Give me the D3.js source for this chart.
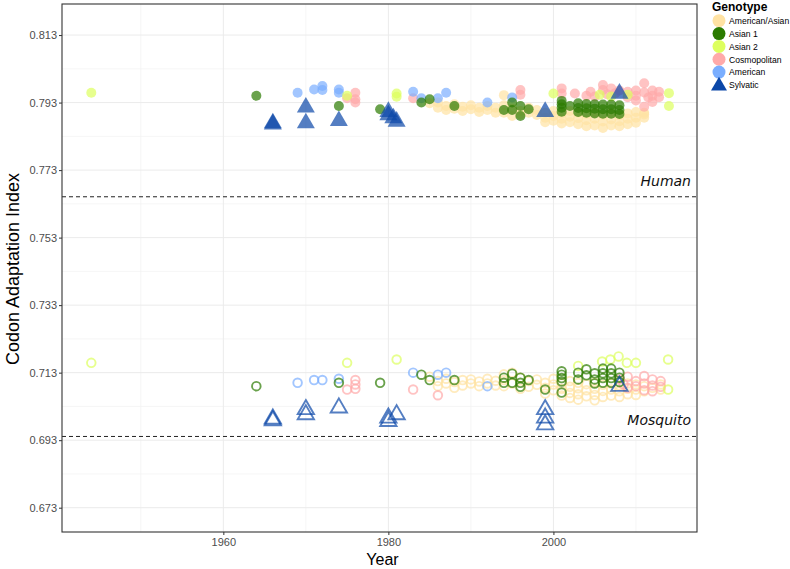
<!DOCTYPE html>
<html><head><meta charset="utf-8">
<script src="https://cdn.jsdelivr.net/npm/d3@7"></script>
<style>body{margin:0;background:#fff;} svg{display:block;font-family:"Liberation Sans",Arial,sans-serif;}</style>
</head><body><svg id="chart" width="790" height="569"></svg>
<script>
// ---- data ----
const genotypes = ["American/Asian","Asian 1","Asian 2","Cosmopolitan","American","Sylvatic"];
const genoColors = ["#FFE2A3","#2B7A00","#DDFF5E","#FFAAAA","#7AAEFF","#0B47A8"];
const yTicks = [0.673,0.693,0.713,0.733,0.753,0.773,0.793,0.813];
const xTicks = [1960,1980,2000];
const refLines = [{label:"Human",value:0.7651},{label:"Mosquito",value:0.6941}];

const humanAmAsian = [[1985,0.7928],[1986,0.7915],[1986,0.7930],[1987,0.7920],[1987,0.7908],[1988,0.7925],[1988,0.7912],[1989,0.7918],[1989,0.7905],[1990,0.7922],[1990,0.7910],[1991,0.7915],[1991,0.7902],[1992,0.7920],[1992,0.7908],[1993,0.7915],[1993,0.7900],[1994,0.7952],[1994,0.7922],[1994,0.7900],[1995,0.7890],[1995,0.7912],[1996,0.7905],[1996,0.7895],[1997,0.7915],[1997,0.7900],[1998,0.7908],[1998,0.7893],[1999,0.7900],[1999,0.7885],[1999,0.7872],[2000,0.7905],[2000,0.7890],[2000,0.7876],[2001,0.7898],[2001,0.7882],[2001,0.7868],[2002,0.7905],[2002,0.7888],[2002,0.7872],[2003,0.7900],[2003,0.7884],[2003,0.7866],[2004,0.7896],[2004,0.7878],[2004,0.7860],[2005,0.7900],[2005,0.7882],[2005,0.7862],[2006,0.7893],[2006,0.7874],[2006,0.7855],[2007,0.7898],[2007,0.7880],[2007,0.7862],[2008,0.7892],[2008,0.7875],[2008,0.7860],[2009,0.7898],[2009,0.7882],[2009,0.7866],[2010,0.7902],[2010,0.7885],[2010,0.7870],[2011,0.7900],[2011,0.7885],[2011,0.7895]];
const humanAsian1 = [[1964,0.7950],[1974,0.7920],[1979,0.7910],[1984,0.7930],[1985,0.7940],[1988,0.7920],[1994,0.7908],[1995,0.7930],[1995,0.7908],[1996,0.7920],[1996,0.7890],[1997,0.7910],[2001,0.7935],[2001,0.7925],[2001,0.7915],[2001,0.7903],[2002,0.7920],[2003,0.7928],[2003,0.7914],[2003,0.7902],[2004,0.7926],[2004,0.7913],[2004,0.7900],[2005,0.7925],[2005,0.7912],[2005,0.7898],[2006,0.7924],[2006,0.7910],[2006,0.7897],[2007,0.7924],[2007,0.7910],[2007,0.7897],[2008,0.7922],[2008,0.7908],[2008,0.7896]];
const humanAsian2 = [[1944,0.7959],[1975,0.7950],[1981,0.7957],[1981,0.7947],[2000,0.7957],[2005.6,0.7953],[2007,0.7948],[2009,0.7953],[2014,0.7958],[2014,0.7920]];
const humanCosmo = [[1975,0.7943],[1976,0.7959],[1976,0.7940],[1976,0.7930],[1983,0.7943],[1996,0.7967],[1996,0.7953],[2001,0.7972],[2001,0.7957],[2002.6,0.7957],[2004,0.7950],[2004.5,0.7962],[2005,0.7948],[2006,0.7982],[2006,0.7967],[2006.5,0.7955],[2007,0.7972],[2007.5,0.7958],[2008,0.7966],[2009,0.7962],[2009,0.7946],[2010,0.7966],[2010,0.7950],[2010,0.7936],[2011,0.7987],[2011,0.7960],[2011,0.7918],[2011.5,0.7945],[2012,0.7966],[2012,0.7950],[2012,0.7932],[2012.8,0.7962],[2012.8,0.7946]];
const humanAmerican = [[1969,0.7959],[1971,0.7969],[1972,0.7979],[1972,0.7967],[1974,0.7969],[1974,0.7959],[1983,0.7962],[1984,0.7943],[1986,0.7943],[1987,0.7959],[1992,0.7930],[1995,0.7945]];
const humanSylvatic = [[1966,0.7869],[1966,0.7866],[1970,0.7916],[1970,0.7869],[1974,0.7876],[1980,0.7903],[1980,0.7893],[1980.6,0.7884],[1981,0.7874],[1999,0.7903],[2008,0.7957]];

const mosqAmAsian = [[1985,0.7118],[1986,0.7105],[1986,0.7090],[1987,0.7112],[1987,0.7098],[1988,0.7102],[1988,0.7085],[1989,0.7108],[1989,0.7092],[1990,0.7110],[1990,0.7098],[1991,0.7104],[1991,0.7090],[1992,0.7112],[1992,0.7098],[1993,0.7106],[1993,0.7092],[1994,0.7125],[1994,0.7108],[1994,0.7090],[1995,0.7130],[1995,0.7098],[1996,0.7115],[1996,0.7082],[1997,0.7105],[1997,0.7088],[1998,0.7110],[1998,0.7094],[1999,0.7100],[1999,0.7085],[1999,0.7068],[2000,0.7112],[2000,0.7095],[2000,0.7078],[2001,0.7098],[2001,0.7082],[2001,0.7062],[2002,0.7105],[2002,0.7088],[2002,0.7070],[2002,0.7055],[2003,0.7100],[2003,0.7084],[2003,0.7066],[2003,0.7050],[2004,0.7096],[2004,0.7078],[2004,0.7060],[2005,0.7100],[2005,0.7082],[2005,0.7064],[2005,0.7048],[2006,0.7094],[2006,0.7076],[2006,0.7058],[2007,0.7098],[2007,0.7080],[2007,0.7062],[2008,0.7092],[2008,0.7075],[2008,0.7058],[2009,0.7098],[2009,0.7082],[2009,0.7066],[2010,0.7095],[2010,0.7080],[2010,0.7064],[2011,0.7090],[2011,0.7075],[2012,0.7085],[2013,0.7095],[2013,0.7080]];
const mosqAsian1 = [[1964,0.7090],[1974,0.7100],[1979,0.7100],[1984,0.7124],[1985,0.7108],[1988,0.7108],[1994,0.7115],[1994,0.7100],[1995,0.7127],[1995,0.7100],[1996,0.7115],[1996,0.7100],[1996,0.7088],[1997,0.7108],[1999,0.7080],[2001,0.7134],[2001,0.7124],[2001,0.7114],[2001,0.7104],[2001,0.7071],[2003,0.7130],[2003,0.7110],[2004,0.7140],[2004,0.7122],[2005,0.7128],[2005,0.7110],[2005,0.7098],[2006,0.7142],[2006,0.7128],[2006,0.7114],[2006,0.7100],[2007,0.7142],[2007,0.7128],[2007,0.7114],[2007,0.7100],[2008,0.7130],[2008,0.7115],[2008,0.7102]];
const mosqAsian2 = [[1944,0.7159],[1975,0.7159],[1981,0.7169],[2003,0.7150],[2005.9,0.7163],[2006.9,0.7169],[2007.9,0.7178],[2008.9,0.7159],[2010,0.7159],[2013.9,0.7169],[2013.9,0.7080]];
const mosqCosmo = [[1975,0.7080],[1976,0.7108],[1976,0.7095],[1976,0.7082],[1983,0.7080],[1986,0.7063],[2008,0.7110],[2008.5,0.7095],[2009,0.7118],[2009,0.7085],[2010,0.7105],[2010,0.7090],[2011,0.7120],[2011,0.7098],[2011,0.7078],[2012,0.7110],[2012,0.7092],[2012,0.7075],[2013,0.7105],[2013,0.7088]];
const mosqAmerican = [[1969,0.7100],[1971,0.7108],[1972,0.7108],[1974,0.7112],[1983,0.7130],[1986,0.7124],[1987,0.7130],[1992,0.7090]];
const mosqSylvatic = [[1966,0.6993],[1966,0.6988],[1970,0.7021],[1970,0.7006],[1974,0.7026],[1980,0.6996],[1980,0.6986],[1981,0.7006],[1999,0.7021],[1999,0.6996],[1999,0.6976],[2008,0.7090]];

// ---- layout ----
const svg = d3.select("#chart");
const L = 62, R = 697, T = 4, B = 532;
const x = d3.scaleLinear().domain([1940.45, 2017.4]).range([L, R]);
const y = d3.scaleLinear().domain([0.6658, 0.8222]).range([B, T]);
const color = d3.scaleOrdinal().domain(genotypes).range(genoColors);
const ALPHA = 0.7;

// grid minor
const xMinor = [1950,1970,1990,2010];
const yMinor = yTicks.map(v => v + 0.01).filter(v => v < 0.8222);
svg.append("g").selectAll("line").data(xMinor).join("line")
  .attr("x1", d => x(d)).attr("x2", d => x(d)).attr("y1", T).attr("y2", B)
  .attr("stroke", "#F2F2F2").attr("stroke-width", 0.7);
svg.append("g").selectAll("line").data(yMinor).join("line")
  .attr("x1", L).attr("x2", R).attr("y1", d => y(d)).attr("y2", d => y(d))
  .attr("stroke", "#F2F2F2").attr("stroke-width", 0.7);
// grid major
svg.append("g").selectAll("line").data(xTicks).join("line")
  .attr("x1", d => x(d)).attr("x2", d => x(d)).attr("y1", T).attr("y2", B)
  .attr("stroke", "#EBEBEB").attr("stroke-width", 1);
svg.append("g").selectAll("line").data(yTicks).join("line")
  .attr("x1", L).attr("x2", R).attr("y1", d => y(d)).attr("y2", d => y(d))
  .attr("stroke", "#EBEBEB").attr("stroke-width", 1);

// reference lines
svg.append("g").selectAll("line").data(refLines).join("line")
  .attr("x1", L).attr("x2", R).attr("y1", d => y(d.value)).attr("y2", d => y(d.value))
  .attr("stroke", "#222").attr("stroke-width", 1).attr("stroke-dasharray", "4,3");
svg.append("g").selectAll("text").data(refLines).join("text")
  .attr("x", 691).attr("y", d => y(d.value) - 11).attr("text-anchor", "end")
  .attr("font-style", "italic").attr("font-size", 14).attr("fill", "#111")
  .attr("font-family", "DejaVu Sans, sans-serif")
  .text(d => d.label);

// points
const human = [["American/Asian",humanAmAsian],["Cosmopolitan",humanCosmo],["American",humanAmerican],["Asian 2",humanAsian2],["Asian 1",humanAsian1]];
const mosq = [["American/Asian",mosqAmAsian],["Cosmopolitan",mosqCosmo],["American",mosqAmerican],["Asian 2",mosqAsian2],["Asian 1",mosqAsian1]];
const pts = svg.append("g");
human.forEach(([g, arr]) => {
  pts.append("g").selectAll("circle").data(arr).join("circle")
    .attr("cx", d => x(d[0])).attr("cy", d => y(d[1])).attr("r", 5)
    .attr("fill", color(g)).attr("fill-opacity", ALPHA);
});
mosq.forEach(([g, arr]) => {
  pts.append("g").selectAll("circle").data(arr).join("circle")
    .attr("cx", d => x(d[0])).attr("cy", d => y(d[1])).attr("r", 4.3)
    .attr("fill", "none").attr("stroke", color(g)).attr("stroke-width", 1.9).attr("stroke-opacity", ALPHA);
});
const tri = d3.symbol().type(d3.symbolTriangle).size(140);
pts.append("g").selectAll("path").data(humanSylvatic).join("path")
  .attr("d", tri).attr("transform", d => `translate(${x(d[0])},${y(d[1])})`)
  .attr("fill", color("Sylvatic")).attr("fill-opacity", ALPHA);
pts.append("g").selectAll("path").data(mosqSylvatic).join("path")
  .attr("d", d3.symbol().type(d3.symbolTriangle).size(115)).attr("transform", d => `translate(${x(d[0])},${y(d[1])})`)
  .attr("fill", "none").attr("stroke", color("Sylvatic")).attr("stroke-width", 1.9).attr("stroke-opacity", ALPHA);

// panel border
svg.append("rect").attr("x", L).attr("y", T).attr("width", R - L).attr("height", B - T)
  .attr("fill", "none").attr("stroke", "#333").attr("stroke-width", 1.1);

// axes
const yAxis = svg.append("g").attr("transform", `translate(${L},0)`)
  .call(d3.axisLeft(y).tickValues(yTicks).tickFormat(d3.format(".3f")).tickSize(3).tickPadding(2));
const xAxis = svg.append("g").attr("transform", `translate(0,${B})`)
  .call(d3.axisBottom(x).tickValues(xTicks).tickFormat(d3.format("d")).tickSize(3).tickPadding(3));
[yAxis, xAxis].forEach(a => {
  a.select(".domain").remove();
  a.selectAll(".tick line").attr("stroke", "#333");
  a.selectAll(".tick text").attr("fill", "#4D4D4D").attr("font-size", 11).attr("font-family", "Liberation Sans, Arial, sans-serif");
});

// axis titles
svg.append("text").attr("x", (L + R) / 2 + 3).attr("y", 565).attr("text-anchor", "middle")
  .attr("font-size", 16).attr("fill", "#000").text("Year");
svg.append("text").attr("transform", `translate(19,${(T + B) / 2 + 1}) rotate(-90)`).attr("text-anchor", "middle")
  .attr("font-size", 18).attr("fill", "#000").text("Codon Adaptation Index");

// legend
const lg = svg.append("g");
lg.append("text").attr("x", 712).attr("y", 11).attr("font-size", 12).attr("font-weight", "bold").text("Genotype");
const items = lg.selectAll("g.item").data(genotypes).join("g").attr("class", "item")
  .attr("transform", (d, i) => `translate(719,${20.7 + i * 12.85})`);
items.each(function(d) {
  const g = d3.select(this);
  if (d === "Sylvatic") {
    g.append("path").attr("d", d3.symbol().type(d3.symbolTriangle).size(110)).attr("transform", "translate(0,1)").attr("fill", color(d));
  } else {
    g.append("circle").attr("r", 6.5).attr("fill", color(d));
  }
  g.append("text").attr("x", 10).attr("y", 3.3).attr("font-size", 8.6).attr("fill", "#000").text(d);
});
</script>
</body></html>
